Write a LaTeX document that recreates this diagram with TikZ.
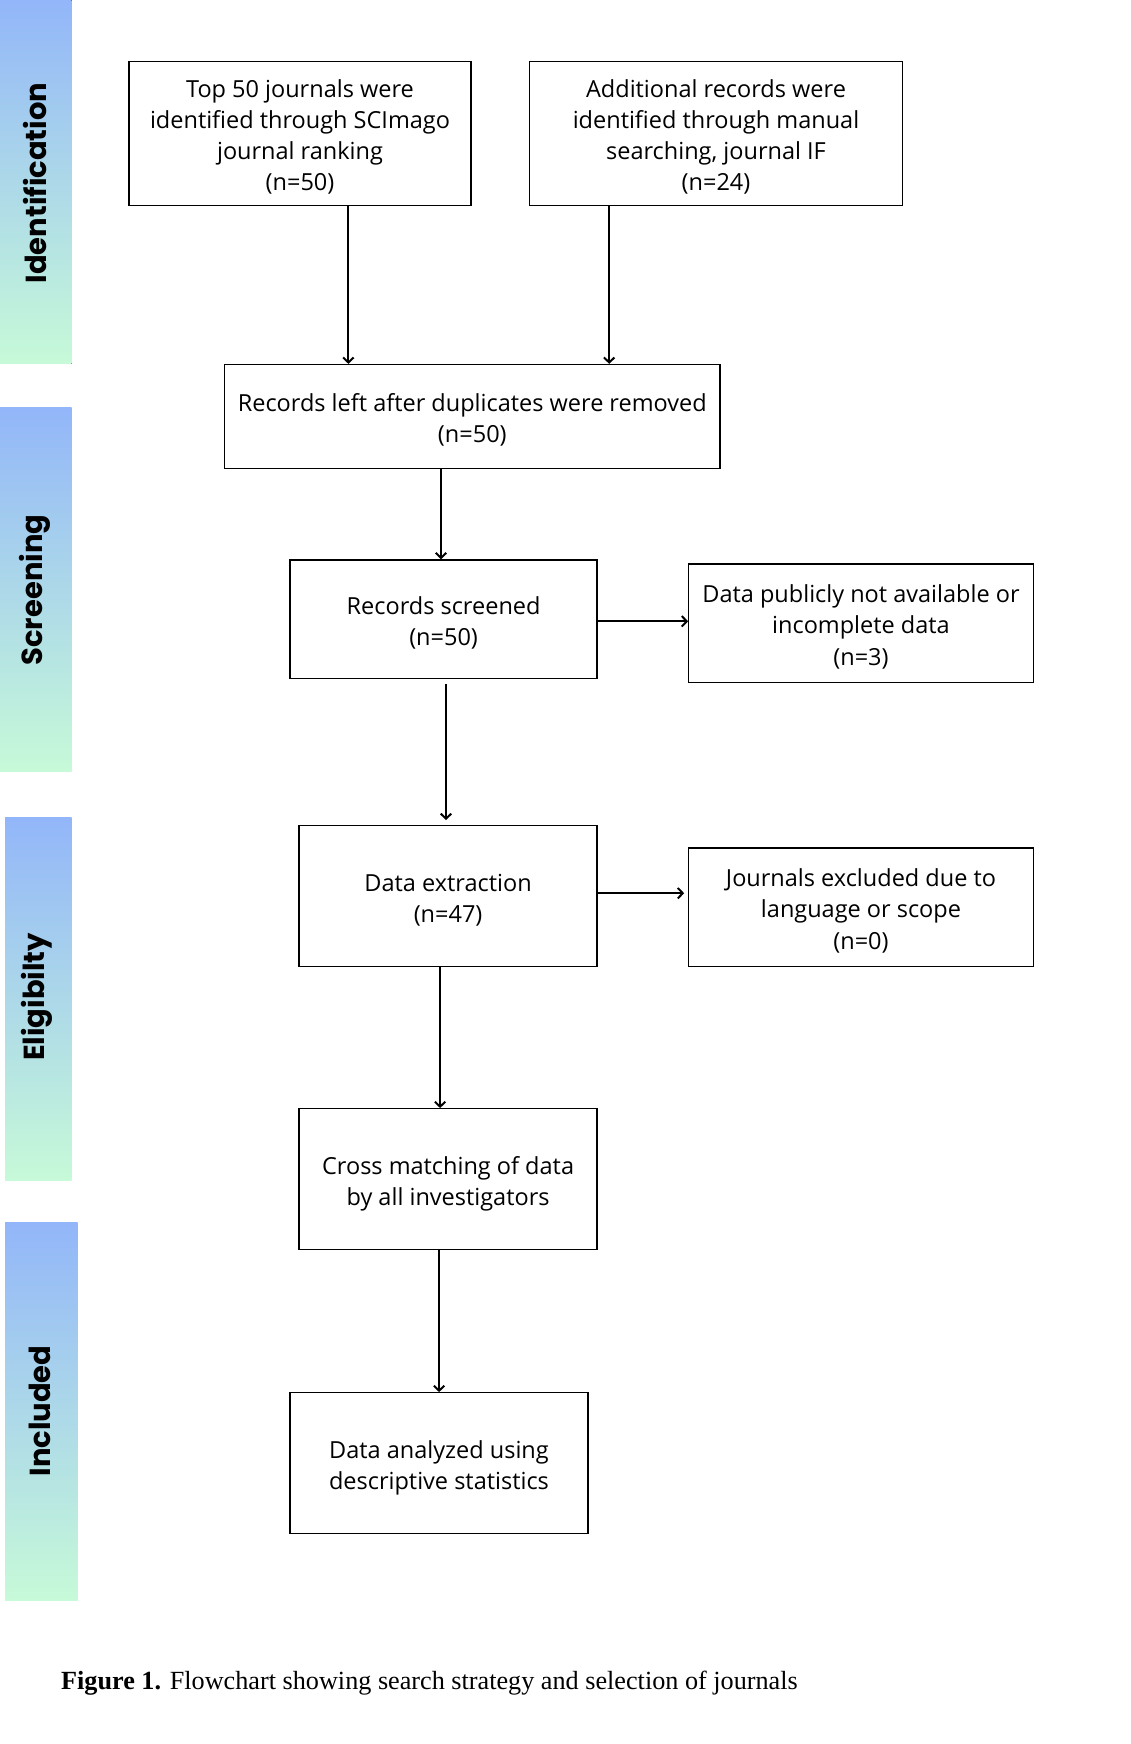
\documentclass[tikz,border=0pt]{standalone}
\usepackage{fontspec}
\setmainfont{Open Sans}
\newfontfamily\barfont{Poppins}
\newfontfamily\capfont{Liberation Serif}
\usetikzlibrary{arrows.meta}
\definecolor{bartop}{HTML}{92B6F9}
\definecolor{barbot}{HTML}{C6FAD8}
\newcommand\boxlines[1]{\raisebox{-4.4pt}[\height][\depth]{\begin{tabular}{@{}c@{}}#1\end{tabular}}}
\tikzset{
  box/.style={draw=black, line width=1.3pt, align=center, font=\fontsize{23.5}{31.1}\selectfont, inner sep=0pt},
  arr/.style={line width=2.1pt, -{Straight Barb[length=5pt,width=10.5pt,line width=2pt]}},
  bar/.style={top color=bartop, bottom color=barbot, draw=none},
  barlabel/.style={rotate=90, font=\barfont\bfseries\fontsize{29}{29}\selectfont}
}
\begin{document}
\begin{tikzpicture}[x=1pt,y=-1pt]
\useasboundingbox[fill=white] (0,0) rectangle (1131,1744);
% side bars
\fill[bar] (0,0) rectangle (71.5,363.5);
\fill[bar] (0,407.8) rectangle (71.5,771.4);
\fill[bar] (5,817.7) rectangle (71.5,1180);
\fill[bar] (5,1222.5) rectangle (77.5,1600);
\node[barlabel] (lid) at (35,183) {Identification};
\node[barlabel] (lsc) at (35,590) {Screening};
\node[barlabel] (lel) at (37,997) {Eligibilty};
\node[barlabel] (lin) at (40,1411) {Included};
% boxes
\node[box, minimum width=342pt, minimum height=144pt] (A) at (300,133.4) {\boxlines{Top 50 journals were\\identified through SCImago\\journal ranking\\(n=50)}};
\node[box, minimum width=372.6pt, minimum height=144pt] (B) at (716,133.4) {\boxlines{Additional records were\\identified through manual\\searching, journal IF\\(n=24)}};
\node[box, minimum width=495.4pt, minimum height=103.8pt] (C) at (472.3,416.4) {\boxlines{Records left after duplicates were removed\\(n=50)}};
\node[box, minimum width=307pt, minimum height=118.8pt] (D) at (443.6,619.3) {\boxlines{Records screened\\(n=50)}};
\node[box, minimum width=344.4pt, minimum height=118.8pt] (E) at (861,623.3) {\boxlines{Data publicly not available or\\incomplete data\\(n=3)}};
\node[box, minimum width=298pt, minimum height=141pt] (F) at (448.1,896.2) {\boxlines{Data extraction\\(n=47)}};
\node[box, minimum width=344.4pt, minimum height=118.8pt] (G) at (861,907.3) {\boxlines{Journals excluded due to\\language or scope\\(n=0)}};
\node[box, minimum width=298pt, minimum height=141pt] (H) at (448.1,1179.2) {\boxlines{Cross matching of data\\by all investigators}};
\node[box, minimum width=298pt, minimum height=141pt] (I) at (439,1463.2) {\boxlines{Data analyzed using\\descriptive statistics}};
% arrows
\draw[arr] ([xshift=48.4pt]A.south) -- ([xshift=48.4pt]A.south |- C.north);
\draw[arr] ([xshift=-106.8pt]B.south) -- ([xshift=-106.8pt]B.south |- C.north);
\draw[arr] ([xshift=-31.3pt]C.south) -- ([xshift=-31.3pt]C.south |- D.north);
\draw[arr] ([yshift=-2pt]D.east) -- ([yshift=-2pt]D.east -| E.west);
\draw[arr] ([xshift=2.4pt,yshift=-5pt]D.south) -- ([xshift=2.4pt,yshift=5pt]D.south |- F.north);
\draw[arr] ([yshift=3pt]F.east) -- ([yshift=3pt,xshift=-4pt]F.east -| G.west);
\draw[arr] ([xshift=-8pt]F.south) -- ([xshift=-8pt]F.south |- H.north);
\draw[arr] ([xshift=-9pt]H.south) -- ([xshift=-9pt]H.south |- I.north);
% caption
\node[anchor=base west, inner sep=0pt, font=\capfont\fontsize{26.2}{26.2}\selectfont] (cap) at (61,1689) {\textbf{Figure 1.} Flowchart showing search strategy and selection of journals};
\end{tikzpicture}
\end{document}
